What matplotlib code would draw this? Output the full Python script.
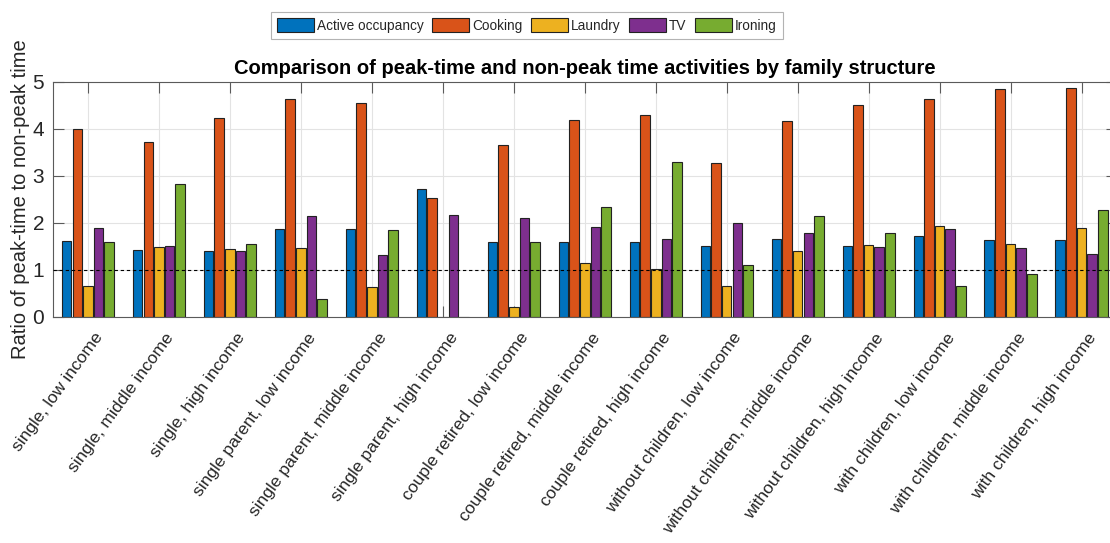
import numpy as np
import matplotlib
matplotlib.use('Agg')
import matplotlib.pyplot as plt
import matplotlib.transforms as mtransforms

plt.rcParams['font.family'] = ['Liberation Sans', 'DejaVu Sans']

# family structures on the x axis
groups = [
    'single, low income', 'single, middle income', 'single, high income',
    'single parent, low income', 'single parent, middle income', 'single parent, high income',
    'couple retired, low income', 'couple retired, middle income', 'couple retired, high income',
    'without children, low income', 'without children, middle income', 'without children, high income',
    'with children, low income', 'with children, middle income', 'with children, high income',
]

activities = ['Active occupancy', 'Cooking', 'Laundry', 'TV', 'Ironing']

# peak / non-peak ratios per activity
active_occupancy = [1.62, 1.43, 1.41, 1.87, 1.87, 2.72, 1.59, 1.59, 1.59, 1.52, 1.65, 1.52, 1.72, 1.64, 1.64]
cooking = [4.00, 3.72, 4.24, 4.64, 4.56, 2.53, 3.67, 4.19, 4.30, 3.28, 4.16, 4.50, 4.63, 4.85, 4.88]
laundry = [0.66, 1.50, 1.45, 1.47, 0.63, 0.0, 0.22, 1.14, 1.02, 0.66, 1.40, 1.53, 1.94, 1.55, 1.89]
tv = [1.89, 1.51, 1.40, 2.15, 1.31, 2.16, 2.11, 1.92, 1.65, 1.99, 1.78, 1.50, 1.88, 1.46, 1.35]
ironing = [1.59, 2.84, 1.55, 0.38, 1.85, 0.0, 1.60, 2.33, 3.29, 1.11, 2.14, 1.79, 0.66, 0.92, 2.28]

series = [active_occupancy, cooking, laundry, tv, ironing]
colors = ['#0072BD', '#D95319', '#EDB120', '#7E2F8E', '#77AC30']

fig = plt.figure(figsize=(11.10, 5.43), dpi=100)
# axes run slightly past the right border of the figure
ax = fig.add_axes([52.5 / 1110, 1 - 317 / 543, 1064.5 / 1110, 235 / 543])

x = np.arange(1, len(groups) + 1)
step = 0.15
width = 0.135
handles = []
for i, (vals, c) in enumerate(zip(series, colors)):
    h = ax.bar(x + (i - 2) * step, vals, width, color=c, edgecolor='#222222',
               linewidth=0.8, label=activities[i], zorder=2)
    handles.append(h)

ax.axhline(1, color='black', linestyle=(0, (3, 2.5)), linewidth=0.8, zorder=3)

ax.set_xlim(0.5, len(groups) + 0.5)
ax.set_ylim(0, 5)
ax.set_yticks(range(6))
ax.set_xticks(x)
ax.grid(True, color='#e3e3e3', linewidth=0.8, zorder=0)
ax.set_axisbelow(True)

for s in ax.spines.values():
    s.set_color('#5a5a5a')
    s.set_linewidth(0.8)
ax.tick_params(axis='both', direction='in', length=8, width=0.8, color='#5a5a5a',
               top=True, right=True, labelcolor='#262626')
ax.tick_params(axis='y', labelsize=15, pad=6)
ax.tick_params(axis='x', pad=9.5)

ax.set_xticklabels(groups, rotation=54, ha='right', va='top', rotation_mode='anchor',
                   fontsize=12.6)
shift = mtransforms.ScaledTranslation(6 / 100, 0, fig.dpi_scale_trans)
for lbl in ax.get_xticklabels():
    lbl.set_transform(lbl.get_transform() + shift)

ax.set_ylabel('Ratio of peak-time to non-peak time', fontsize=14.5, color='#262626', labelpad=1.5)
ax.set_title('Comparison of peak-time and non-peak time activities by family structure',
             fontsize=14.5, fontweight='bold', pad=6)

leg = fig.legend(handles=handles, labels=activities, loc='upper center',
                 bbox_to_anchor=(527 / 1110, 1 - 12 / 543), ncol=5, fontsize=9.8,
                 frameon=True, fancybox=False, edgecolor='#a0a0a0',
                 handlelength=2.7, handleheight=1.2, handletextpad=0.25,
                 columnspacing=0.6, borderpad=0.45, borderaxespad=0)
for t in leg.get_texts():
    t.set_color('#262626')
leg.get_frame().set_linewidth(0.8)

fig.savefig('out.png', dpi=100)
